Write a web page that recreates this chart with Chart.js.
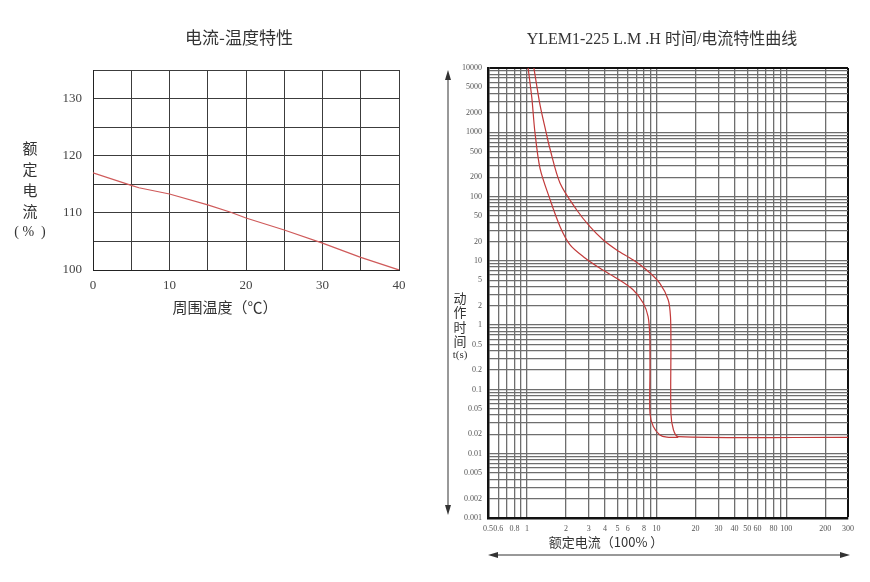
<!DOCTYPE html>
<html><head><meta charset="utf-8">
<script src="https://cdn.jsdelivr.net/npm/chart.js@4.4.1/dist/chart.umd.min.js"></script>
<style>
html,body{margin:0;padding:0;background:#fff;overflow:hidden;}
#wrap{position:relative;width:870px;height:582px;overflow:hidden;background:#fff;}
#c1{position:absolute;left:0;top:0;}
#c2{position:absolute;left:436px;top:0;}
</style></head><body>
<div id="wrap"><canvas id="c1" width="430" height="330"></canvas><canvas id="c2" width="434" height="582"></canvas></div>
<script>
// ---------- Left chart: 电流-温度特性 ----------
const tempC = [0, 5, 6, 10, 15, 18, 20, 25, 30, 35, 40];
const ratedPct = [117, 114.8, 114.4, 113.3, 111.4, 110.1, 109.1, 107.0, 104.7, 102.2, 100];
const tempTickLabels = [0, 10, 20, 30, 40];
const pctTickLabels = [100, 110, 120, 130];

// ---------- Right chart: 时间/电流特性曲线 ----------
const currentTickLabels = [0.5, 0.6, 0.8, 1, 2, 3, 4, 5, 6, 8, 10, 20, 30, 40, 50, 60, 80, 100, 200, 300];
const timeTickLabels = [10000, 5000, 2000, 1000, 500, 200, 100, 50, 20, 10, 5, 2, 1, 0.5, 0.2, 0.1, 0.05, 0.02, 0.01, 0.005, 0.002, 0.001];
const lowerCurrent = [1.02, 1.09, 1.15, 1.26, 1.5, 1.8, 2.15, 2.72, 3.66, 4.92, 6.61, 7.9, 8.6, 8.85, 8.89, 8.89, 9.43, 10.6, 12, 14.7];
const lowerTime    = [10000, 3400, 1020, 275, 92, 34, 17.7, 11.6, 7.66, 5.36, 3.52, 2.19, 1.355, 0.7, 0.2, 0.0426, 0.0264, 0.0196, 0.0181, 0.018];
const upperCurrent = [1.13, 1.26, 1.4, 1.5, 1.8, 2.42, 3.06, 3.88, 4.92, 6.61, 8.38, 10.6, 12.3, 12.8, 12.9, 12.9, 13.5, 14.7, 300];
const upperTime    = [10000, 2660, 1020, 564, 161, 61.8, 34, 21.1, 14.8, 10.3, 7.2, 4.48, 2.46, 1.355, 0.5, 0.0426, 0.0234, 0.0184, 0.018];

const serif = "'Liberation Serif', 'Noto Sans CJK SC', serif";
const cjk = "'Noto Sans CJK SC', 'Liberation Serif', sans-serif";

function logTicks(min, max) {
  const out = [];
  for (let e = -4; e <= 5; e++) {
    for (let m = 1; m <= 9; m++) {
      const v = +(m * Math.pow(10, e)).toPrecision(10);
      if (v >= min * (1 - 1e-9) && v <= max * (1 + 1e-9)) out.push({ value: v });
    }
  }
  return out;
}
function inList(list, v) { return list.some(l => Math.abs(l - v) <= Math.abs(l) * 1e-6 + 1e-12); }

function arrowHead(ctx, x, y, dir) {
  const L = 10, W = 3;
  ctx.beginPath();
  if (dir === 'up') { ctx.moveTo(x, y); ctx.lineTo(x - W, y + L); ctx.lineTo(x + W, y + L); }
  if (dir === 'down') { ctx.moveTo(x, y); ctx.lineTo(x - W, y - L); ctx.lineTo(x + W, y - L); }
  if (dir === 'left') { ctx.moveTo(x, y); ctx.lineTo(x + L, y - W); ctx.lineTo(x + L, y + W); }
  if (dir === 'right') { ctx.moveTo(x, y); ctx.lineTo(x - L, y - W); ctx.lineTo(x - L, y + W); }
  ctx.closePath(); ctx.fill();
}

const leftDecor = {
  id: 'leftDecor',
  afterDraw(chart) {
    const { ctx, chartArea: a } = chart;
    ctx.save();
    ctx.fillStyle = '#333';
    ctx.textAlign = 'center'; ctx.textBaseline = 'middle';
    ctx.font = "17px " + cjk;
    ctx.fillText('电流-温度特性', (a.left + a.right) / 2 - 7, a.top - 32);
    ctx.font = "15px " + cjk;
    ctx.fillText('周围温度（℃）', a.left + 132, a.bottom + 37);
    const chars = ['额', '定', '电', '流'];
    chars.forEach((c, i) => ctx.fillText(c, a.left - 63, a.top + 78 + i * 21));
    ctx.font = "14px " + serif;
    ctx.fillText('( %  )', a.left - 63, a.top + 78 + 4 * 21);
    ctx.restore();
  }
};

new Chart(document.getElementById('c1'), {
  type: 'line',
  data: {
    datasets: [{
      data: tempC.map((x, i) => ({ x, y: ratedPct[i] })),
      borderColor: '#cf5a5a', borderWidth: 1.2, pointRadius: 0, tension: 0, fill: false
    }]
  },
  options: {
    responsive: false, animation: false, devicePixelRatio: 1,
    layout: { padding: { left: 0, right: 31, top: 70, bottom: 20 } },
    plugins: { legend: { display: false }, title: { display: false }, tooltip: { enabled: false } },
    scales: {
      x: {
        type: 'linear', min: 0, max: 40,
        afterFit: s => { s.height = 40; },
        ticks: { stepSize: 5, autoSkip: false, maxRotation: 0, padding: 8, color: '#444',
          font: { family: serif, size: 13 },
          callback: v => inList(tempTickLabels, v) ? String(v) : '' },
        grid: { color: '#3c3c3c', lineWidth: 1, drawTicks: false },
        border: { color: '#222', width: 1 }
      },
      y: {
        type: 'linear', min: 100, max: 135,
        afterFit: s => { s.width = 93; },
        ticks: { stepSize: 5, autoSkip: false, padding: 11, color: '#444',
          font: { family: serif, size: 13 },
          callback: v => inList(pctTickLabels, v) ? String(v) : '' },
        grid: { color: '#3c3c3c', lineWidth: 1, drawTicks: false },
        border: { color: '#222', width: 1 }
      }
    }
  },
  plugins: [leftDecor]
});

const rightDecor = {
  id: 'rightDecor',
  afterDraw(chart) {
    const { ctx, chartArea: a } = chart;
    ctx.save();
    ctx.fillStyle = '#333'; ctx.strokeStyle = '#333';
    ctx.textAlign = 'center'; ctx.textBaseline = 'middle';
    ctx.font = "16px " + serif;
    ctx.fillText('YLEM1-225 L.M .H 时间/电流特性曲线', (a.left + a.right) / 2 - 6, a.top - 28);
    // vertical double arrow
    const ax = a.left - 40;
    ctx.lineWidth = 1;
    ctx.beginPath(); ctx.moveTo(ax, a.top + 6); ctx.lineTo(ax, a.bottom - 8); ctx.stroke();
    arrowHead(ctx, ax, a.top + 2, 'up');
    arrowHead(ctx, ax, a.bottom - 3, 'down');
    // horizontal double arrow
    const ay = a.bottom + 37;
    ctx.beginPath(); ctx.moveTo(a.left + 4, ay); ctx.lineTo(a.right - 2, ay); ctx.stroke();
    arrowHead(ctx, a.left, ay, 'left');
    arrowHead(ctx, a.right + 2, ay, 'right');
    // axis titles
    ctx.font = "13px " + cjk;
    ['动', '作', '时', '间'].forEach((c, i) => ctx.fillText(c, a.left - 28, a.top + 230 + i * 14.5));
    ctx.font = "11px " + serif;
    ctx.fillText('t(s)', a.left - 28, a.top + 287);
    ctx.font = "13px " + cjk;
    ctx.fillText('额定电流（100% ）', a.left + 118, a.bottom + 24);
    ctx.restore();
  }
};

function edgeGrid(edgeValue, edgeStyle, normalStyle) {
  return c => (c.tick && Math.abs(c.tick.value - edgeValue) <= edgeValue * 1e-6) ? edgeStyle : normalStyle;
}

new Chart(document.getElementById('c2'), {
  type: 'line',
  data: {
    datasets: [
      { data: lowerCurrent.map((x, i) => ({ x, y: lowerTime[i] })),
        borderColor: '#c23a3a', borderWidth: 1.2, pointRadius: 0, tension: 0.3, fill: false },
      { data: upperCurrent.map((x, i) => ({ x, y: upperTime[i] })),
        borderColor: '#c23a3a', borderWidth: 1.2, pointRadius: 0, tension: 0.3, fill: false }
    ]
  },
  options: {
    responsive: false, animation: false, devicePixelRatio: 1,
    layout: { padding: { left: 0, right: 22, top: 68, bottom: 34 } },
    plugins: { legend: { display: false }, title: { display: false }, tooltip: { enabled: false } },
    scales: {
      x: {
        type: 'logarithmic', min: 0.5, max: 300,
        afterBuildTicks: s => { s.ticks = logTicks(0.5, 300); },
        afterFit: s => { s.height = 30; },
        ticks: { autoSkip: false, maxRotation: 0, minRotation: 0, padding: 6, color: '#555',
          font: { family: serif, size: 8 },
          callback: v => inList(currentTickLabels, v) ? String(v) : '' },
        grid: { color: edgeGrid(300, '#111', '#6e6e6e'), lineWidth: edgeGrid(300, 2, 1.3), drawTicks: false },
        border: { color: '#111', width: 2.5 }
      },
      y: {
        type: 'logarithmic', min: 0.001, max: 10000,
        afterBuildTicks: s => { s.ticks = logTicks(0.001, 10000); },
        afterFit: s => { s.width = 52; },
        ticks: { autoSkip: false, padding: 6, color: '#555',
          font: { family: serif, size: 8 },
          callback: v => inList(timeTickLabels, v) ? String(v) : '' },
        grid: { color: edgeGrid(10000, '#111', '#6e6e6e'), lineWidth: edgeGrid(10000, 2, 1.3), drawTicks: false },
        border: { color: '#111', width: 2.5 }
      }
    }
  },
  plugins: [rightDecor]
});
</script>
</body></html>
